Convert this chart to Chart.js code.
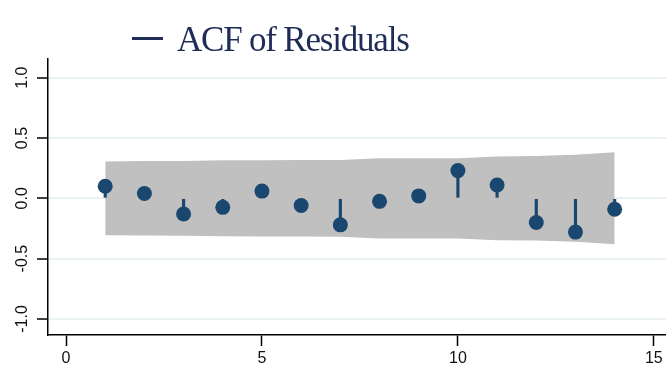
<!DOCTYPE html>
<html>
<head>
<meta charset="utf-8">
<script src="https://cdn.jsdelivr.net/npm/chart.js@4/dist/chart.umd.min.js"></script>
<style>
  body { margin: 0; background: #fff; }
  #wrap { position: relative; width: 666px; height: 369px; }
  #legend { position: absolute; left: 132px; top: 22px; height: 40px; font-family: "Liberation Serif", serif; font-size: 35px; line-height: 1; letter-spacing: -1.2px; color: #1f2d56; white-space: nowrap; }
  #legend .swatch { position: absolute; left: 0; top: 15px; width: 31px; height: 3px; background: #1f2d56; }
  #legend .label { position: absolute; left: 45px; top: 0; }
</style>
</head>
<body>
<div id="wrap">
  <canvas id="acfChart" width="666" height="369"></canvas>
  <div id="legend"><span class="swatch"></span><span class="label">ACF of Residuals</span></div>
</div>
<script>
// values
const lags = [1, 2, 3, 4, 5, 6, 7, 8, 9, 10, 11, 12, 13, 14];
const acf = [0.10, 0.04, -0.13, -0.075, 0.06, -0.06, -0.22, -0.025, 0.02, 0.23, 0.11, -0.20, -0.28, -0.09];
const bandUpper = [0.306, 0.309, 0.31, 0.315, 0.316, 0.317, 0.318, 0.332, 0.333, 0.333, 0.347, 0.35, 0.361, 0.381];
const bandLower = bandUpper.map((v) => -v);
const xTicks = [0, 5, 10, 15];
const yTicks = [-1, -0.5, 0, 0.5, 1];

const navy = "#1a476f";

const toPoints = (ys) => lags.map((x, i) => ({ x: x, y: ys[i] }));

const ctx = document.getElementById("acfChart").getContext("2d");

new Chart(ctx, {
  type: "line",
  data: {
    datasets: [
      {
        // upper edge of confidence band, filled down to the lower edge
        type: "line",
        data: toPoints(bandUpper),
        borderWidth: 0,
        borderColor: "#c0c0c0",
        backgroundColor: "#c0c0c0",
        pointRadius: 0,
        fill: "+1",
        tension: 0,
        order: 3,
      },
      {
        type: "line",
        data: toPoints(bandLower),
        borderWidth: 0,
        borderColor: "#c0c0c0",
        backgroundColor: "#c0c0c0",
        pointRadius: 0,
        fill: false,
        tension: 0,
        order: 3,
      },
      {
        // stems
        type: "bar",
        data: toPoints(acf),
        backgroundColor: navy,
        borderWidth: 0,
        barThickness: 2.5,
        order: 2,
      },
      {
        label: "ACF of Residuals",
        type: "line",
        data: toPoints(acf),
        showLine: false,
        pointRadius: 7.5,
        pointBackgroundColor: navy,
        pointBorderColor: navy,
        pointBorderWidth: 0,
        order: 1,
      },
    ],
  },
  options: {
    responsive: false,
    animation: false,
    layout: { autoPadding: false, padding: { top: 59, right: 0, bottom: 0, left: 0 } },
    plugins: {
      legend: { display: false },
      tooltip: { enabled: false },
    },
    scales: {
      x: {
        type: "linear",
        min: -0.46,
        max: 15.31,
        offset: false,
        afterBuildTicks: (scale) => {
          scale.ticks = xTicks.map((v) => ({ value: v }));
        },
        afterFit: (scale) => {
          scale.height = 34;
          scale.paddingLeft = 0;
          scale.paddingRight = 0;
        },
        grid: {
          offset: false,
          drawOnChartArea: false,
          drawTicks: true,
          tickLength: 11,
          tickColor: "#000",
          tickWidth: 1.5,
        },
        border: { color: "#000", width: 1.5 },
        ticks: {
          color: "#111",
          padding: 3,
          font: { family: "Liberation Sans, Arial, sans-serif", size: 16 },
          maxRotation: 0,
        },
      },
      y: {
        type: "linear",
        min: -1.133,
        max: 1.155,
        afterBuildTicks: (scale) => {
          scale.ticks = yTicks.map((v) => ({ value: v }));
        },
        afterFit: (scale) => {
          scale.width = 48;
        },
        grid: {
          color: "#eaf2f3",
          lineWidth: 2,
          drawTicks: true,
          tickLength: 11,
          tickColor: "#000",
          tickWidth: 1.5,
        },
        border: { color: "#000", width: 1.5 },
        ticks: {
          color: "#111",
          padding: 1,
          crossAlign: "center",
          minRotation: 90,
          maxRotation: 90,
          font: { family: "Liberation Sans, Arial, sans-serif", size: 16 },
          callback: (v) => v.toFixed(1),
        },
      },
    },
  },
});
</script>
</body>
</html>
